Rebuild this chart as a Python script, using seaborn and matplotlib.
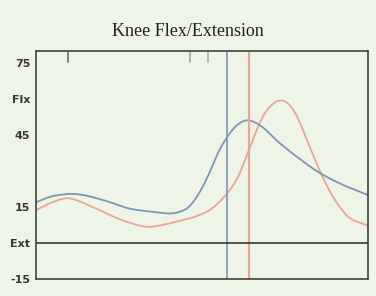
import numpy as np
import pandas as pd
import matplotlib
matplotlib.use("Agg")
import matplotlib.pyplot as plt
import seaborn as sns

# Gait cycle (%) and knee angle (deg)
blue_x = [0, 5, 12, 20, 28, 35, 40, 43, 46, 49, 52, 55, 58, 61, 64, 68, 73, 79, 85, 92, 100]
blue_y = [17, 19.5, 20.4, 18, 14.4, 13, 12.3, 12.9, 15, 20.5, 28.5, 38, 45, 49.6, 51.1, 48.5, 42.1, 35.5, 29.6, 24.5, 20]
red_x = [0, 5, 10, 18, 25, 33, 38, 43, 48, 53, 58, 61, 63.5, 66, 68.5, 71, 73.5, 76, 78.5, 81, 83.5, 86, 88.6, 91.5, 94.6, 100]
red_y = [13.7, 17, 18.6, 14.4, 10, 6.8, 7.5, 9.2, 11, 14.4, 21.4, 28, 36.5, 45.5, 53.1, 57.5, 59.4, 58, 53.1, 45, 36.5, 28.5, 21.3, 15, 10.3, 7.3]
blue_event = 57.5
red_event = 64.2
top_marks = [9.5, 46.5, 51.8]
ytick_vals = [75, 60, 45, 15, 0, -15]
ytick_labels = ["75", "Flx", "45", "15", "Ext", "-15"]
xtick_vals = [0, 25, 50, 75, 100]

bg = "#eef5e6"
blue_c = "#7d96b8"
red_c = "#e9a597"

sns.set_style("white")
plt.rcParams['font.family'] = ['DejaVu Sans']

fig = plt.figure(figsize=(3.76, 2.96), dpi=100, facecolor=bg)
ax = fig.add_axes([36/376, 1-279/296, 332/376, 228/296])
ax.set_facecolor(bg)

xs = np.linspace(0, 100, 400)
def smooth(xp, yp):
    # cubic Hermite (Catmull-Rom) through the read points
    xp = np.asarray(xp, float); yp = np.asarray(yp, float)
    out = []
    for t in xs:
        i = np.searchsorted(xp, t) - 1
        i = min(max(i, 0), len(xp) - 2)
        p0 = yp[max(i-1, 0)]; p1 = yp[i]; p2 = yp[i+1]; p3 = yp[min(i+2, len(xp)-1)]
        x0 = xp[max(i-1, 0)]; x1 = xp[i]; x2 = xp[i+1]; x3 = xp[min(i+2, len(xp)-1)]
        h = x2 - x1
        m1 = (p2 - p0) / (x2 - x0) * h if x2 != x0 else 0
        m2 = (p3 - p1) / (x3 - x1) * h if x3 != x1 else 0
        s = (t - x1) / h
        h00 = 2*s**3 - 3*s**2 + 1; h10 = s**3 - 2*s**2 + s
        h01 = -2*s**3 + 3*s**2; h11 = s**3 - s**2
        out.append(h00*p1 + h10*m1 + h01*p2 + h11*m2)
    return pd.DataFrame({"x": xs, "y": out})

sns.lineplot(data=smooth(red_x, red_y), x="x", y="y", ax=ax, color=red_c, lw=1.3)
sns.lineplot(data=smooth(blue_x, blue_y), x="x", y="y", ax=ax, color=blue_c, lw=1.3)

ax.axvline(blue_event, color=blue_c, lw=1.2)
ax.axvline(red_event, color=red_c, lw=1.6)
ax.axhline(0, color="#2f3a33", lw=1.2)

mark_colors = ["#6a6f6a", "#9aa3a8", "#c7a49a"]
for xm, c in zip(top_marks, mark_colors):
    ax.plot([xm, xm], [80, 75.5], color=c, lw=1.2)

ax.set_xlim(0, 100)
ax.set_ylim(-15, 80)
ax.set_yticks(ytick_vals)
ax.set_yticklabels(ytick_labels, fontsize=8, fontweight="bold", color="#333833")
ax.set_xticks(xtick_vals)
ax.set_xticklabels([])
ax.tick_params(axis="both", direction="out", length=3, width=1, color="#3a3f3a", pad=1)
ax.set_xlabel("")
ax.set_ylabel("")
for s in ax.spines.values():
    s.set_color("#3a443c")
    s.set_linewidth(1.2)

fig.text(188/376, 1-31/296, "Knee Flex/Extension", ha="center", va="center",
         fontsize=13, family="Liberation Serif", color="#222")

fig.savefig("out.png", dpi=100, facecolor=bg)
